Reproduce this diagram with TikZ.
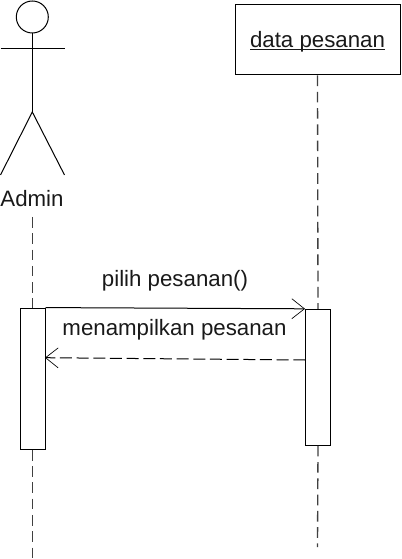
\documentclass[tikz,border=0pt]{standalone}
\usepackage{fontspec}
\setmainfont{Liberation Sans}
\usetikzlibrary{arrows.meta}
\tikzset{
  label text/.style={inner sep=0.75pt,font=\fontsize{16.7pt}{20pt}\selectfont,text=black!90},
  activation/.style={draw,fill=white,inner sep=0pt,minimum width=18.75pt},
  lifeline/.style={draw=black!75,line width=1pt,dash pattern={on 8pt off 4.2pt}},
  open arrow/.style={-{Straight Barb[length=9.5pt,width=15pt,line width=0.5pt]}},
}
\begin{document}
\begin{tikzpicture}[x=0.75pt,y=0.75pt,yscale=-1,xscale=1,line width=0.75pt]
\useasboundingbox (0,0) rectangle (401,559);

% Actor
\node (head) [draw,circle,inner sep=0pt,minimum size=24pt] at (32.3,17) {};
\coordinate (neck) at (32.3,48.5);
\coordinate (armL) at (0.5,48.5);
\coordinate (armR) at (64.5,48.5);
\coordinate (hip) at (32.3,112);
\coordinate (footL) at (0.5,175);
\coordinate (footR) at (64.5,175);
\draw (head.south) -- (neck) -- (hip);
\draw (armL) -- (armR);
\draw (footL) -- (hip) -- (footR);
% Text Node
\node (admin) [label text] at (32,198.5) {Admin};
% Object box
\node (pesanan) [draw,inner sep=0pt,minimum width=123.75pt,minimum height=52.5pt,label text] at (317.5,40) {\smash{\raisebox{-5.3pt}{\underline{\smash{data pesanan}}}}};
% Activation
\node (actA) [activation,minimum height=106pt] at (32.5,378.75) {};
\node (actB) [activation,minimum height=102pt] at (318,377.3) {};
% Lifeline
\coordinate (endA) at (32.5,559);
\coordinate (endB) at (317.5,547);
\draw [lifeline] (32.5,217) coordinate (startA) -- (actA.north);
\draw [lifeline] (actA.south) -- (endA);
\draw [lifeline] (pesanan.south) -- (actB.north);
\draw [lifeline] (actB.south) -- (endB);
% Connection
\draw [open arrow] (actA.north east) -- (actB.north west);
\coordinate (backB) at (305.25,360);
\coordinate (backA) at (45,357.7);
\draw [open arrow,dash pattern={on 9pt off 3.5pt}] (backB) -- (backA);
% Text Node
\node (pilih) [label text] at (175,280.5) {pilih pesanan()};
\node (tampil) [label text] at (174.5,329.5) {menampilkan pesanan};
\end{tikzpicture}
\end{document}
